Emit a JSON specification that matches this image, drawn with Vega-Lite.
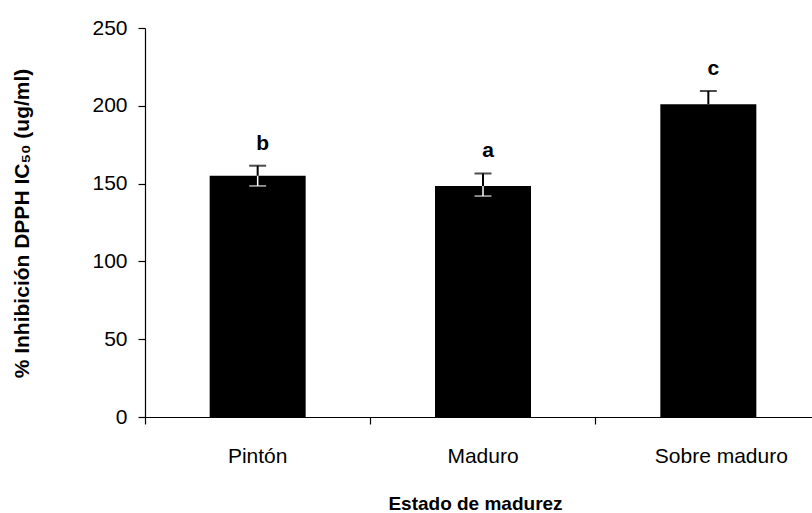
{
  "$schema": "https://vega.github.io/schema/vega-lite/v6.json",
  "width": 667,
  "height": 389,
  "autosize": {"type": "none"},
  "padding": {"left": 145, "top": 28, "right": 0, "bottom": 96},
  "background": "white",
  "config": {"view": {"stroke": null}, "font": "Liberation Sans"},
  "data": {
    "values": [
      {"Estado": "Pintón", "media": 155, "sup": 161.5, "inf": 148.5, "letra": "b"},
      {"Estado": "Maduro", "media": 148.5, "sup": 156.5, "inf": 142, "letra": "a"},
      {"Estado": "Sobre maduro", "media": 201, "sup": 209.5, "inf": 193, "letra": "c"}
    ]
  },
  "encoding": {
    "x": {
      "field": "Estado",
      "type": "nominal",
      "sort": null,
      "scale": {"range": [0, 676], "paddingInner": 0, "paddingOuter": 0},
      "axis": {
        "title": "Estado de madurez",
        "titleFontSize": 19,
        "titleFontWeight": "bold",
        "titleColor": "black",
        "titlePadding": 28,
        "titleX": 330,
        "labelAngle": 0,
        "labelFontSize": 21,
        "labelColor": "black",
        "labelPadding": 21,
        "labelOffset": {"condition": {"test": "datum.label == 'Sobre maduro'", "value": 13}, "value": 0},
        "bandPosition": 0,
        "tickSize": 7,
        "tickColor": "black",
        "domainColor": "black",
        "domainWidth": 1.2,
        "tickWidth": 1.2,
        "grid": false
      }
    }
  },
  "layer": [
    {
      "mark": {"type": "bar", "color": "black", "size": 96},
      "encoding": {
        "y": {
          "field": "media",
          "type": "quantitative",
          "scale": {"domain": [0, 250], "nice": false},
          "axis": {
            "title": "% Inhibición DPPH IC₅₀ (ug/ml)",
            "titleFontSize": 21,
            "titleFontWeight": "bold",
            "titleColor": "black",
            "titleAngle": 270,
            "titleX": -123,
            "titleY": 195,
            "titleAlign": "center",
            "titleBaseline": "middle",
            "values": [0, 50, 100, 150, 200, 250],
            "labelFontSize": 21,
            "labelColor": "black",
            "labelPadding": 11,
            "tickSize": 7,
            "tickColor": "black",
            "domainColor": "black",
            "domainWidth": 1.2,
            "tickWidth": 1.2,
            "grid": false
          }
        }
      }
    },
    {
      "mark": {"type": "rule", "color": "black", "strokeWidth": 2},
      "encoding": {"y": {"field": "media", "type": "quantitative"}, "y2": {"field": "sup"}}
    },
    {
      "mark": {"type": "tick", "color": "black", "size": 17, "thickness": 2},
      "encoding": {"y": {"field": "sup", "type": "quantitative"}}
    },
    {
      "transform": [{"filter": "datum.Estado != 'Sobre maduro'"}],
      "mark": {"type": "rule", "color": "white", "strokeWidth": 1.5},
      "encoding": {"y": {"field": "inf", "type": "quantitative"}, "y2": {"field": "media"}}
    },
    {
      "transform": [{"filter": "datum.Estado != 'Sobre maduro'"}],
      "mark": {"type": "tick", "color": "white", "size": 17, "thickness": 1.5},
      "encoding": {"y": {"field": "inf", "type": "quantitative"}}
    },
    {
      "mark": {"type": "text", "fontSize": 21, "fontWeight": "bold", "dy": -12, "dx": 5, "baseline": "bottom", "color": "black"},
      "encoding": {"y": {"field": "sup", "type": "quantitative"}, "text": {"field": "letra"}}
    }
  ]
}
